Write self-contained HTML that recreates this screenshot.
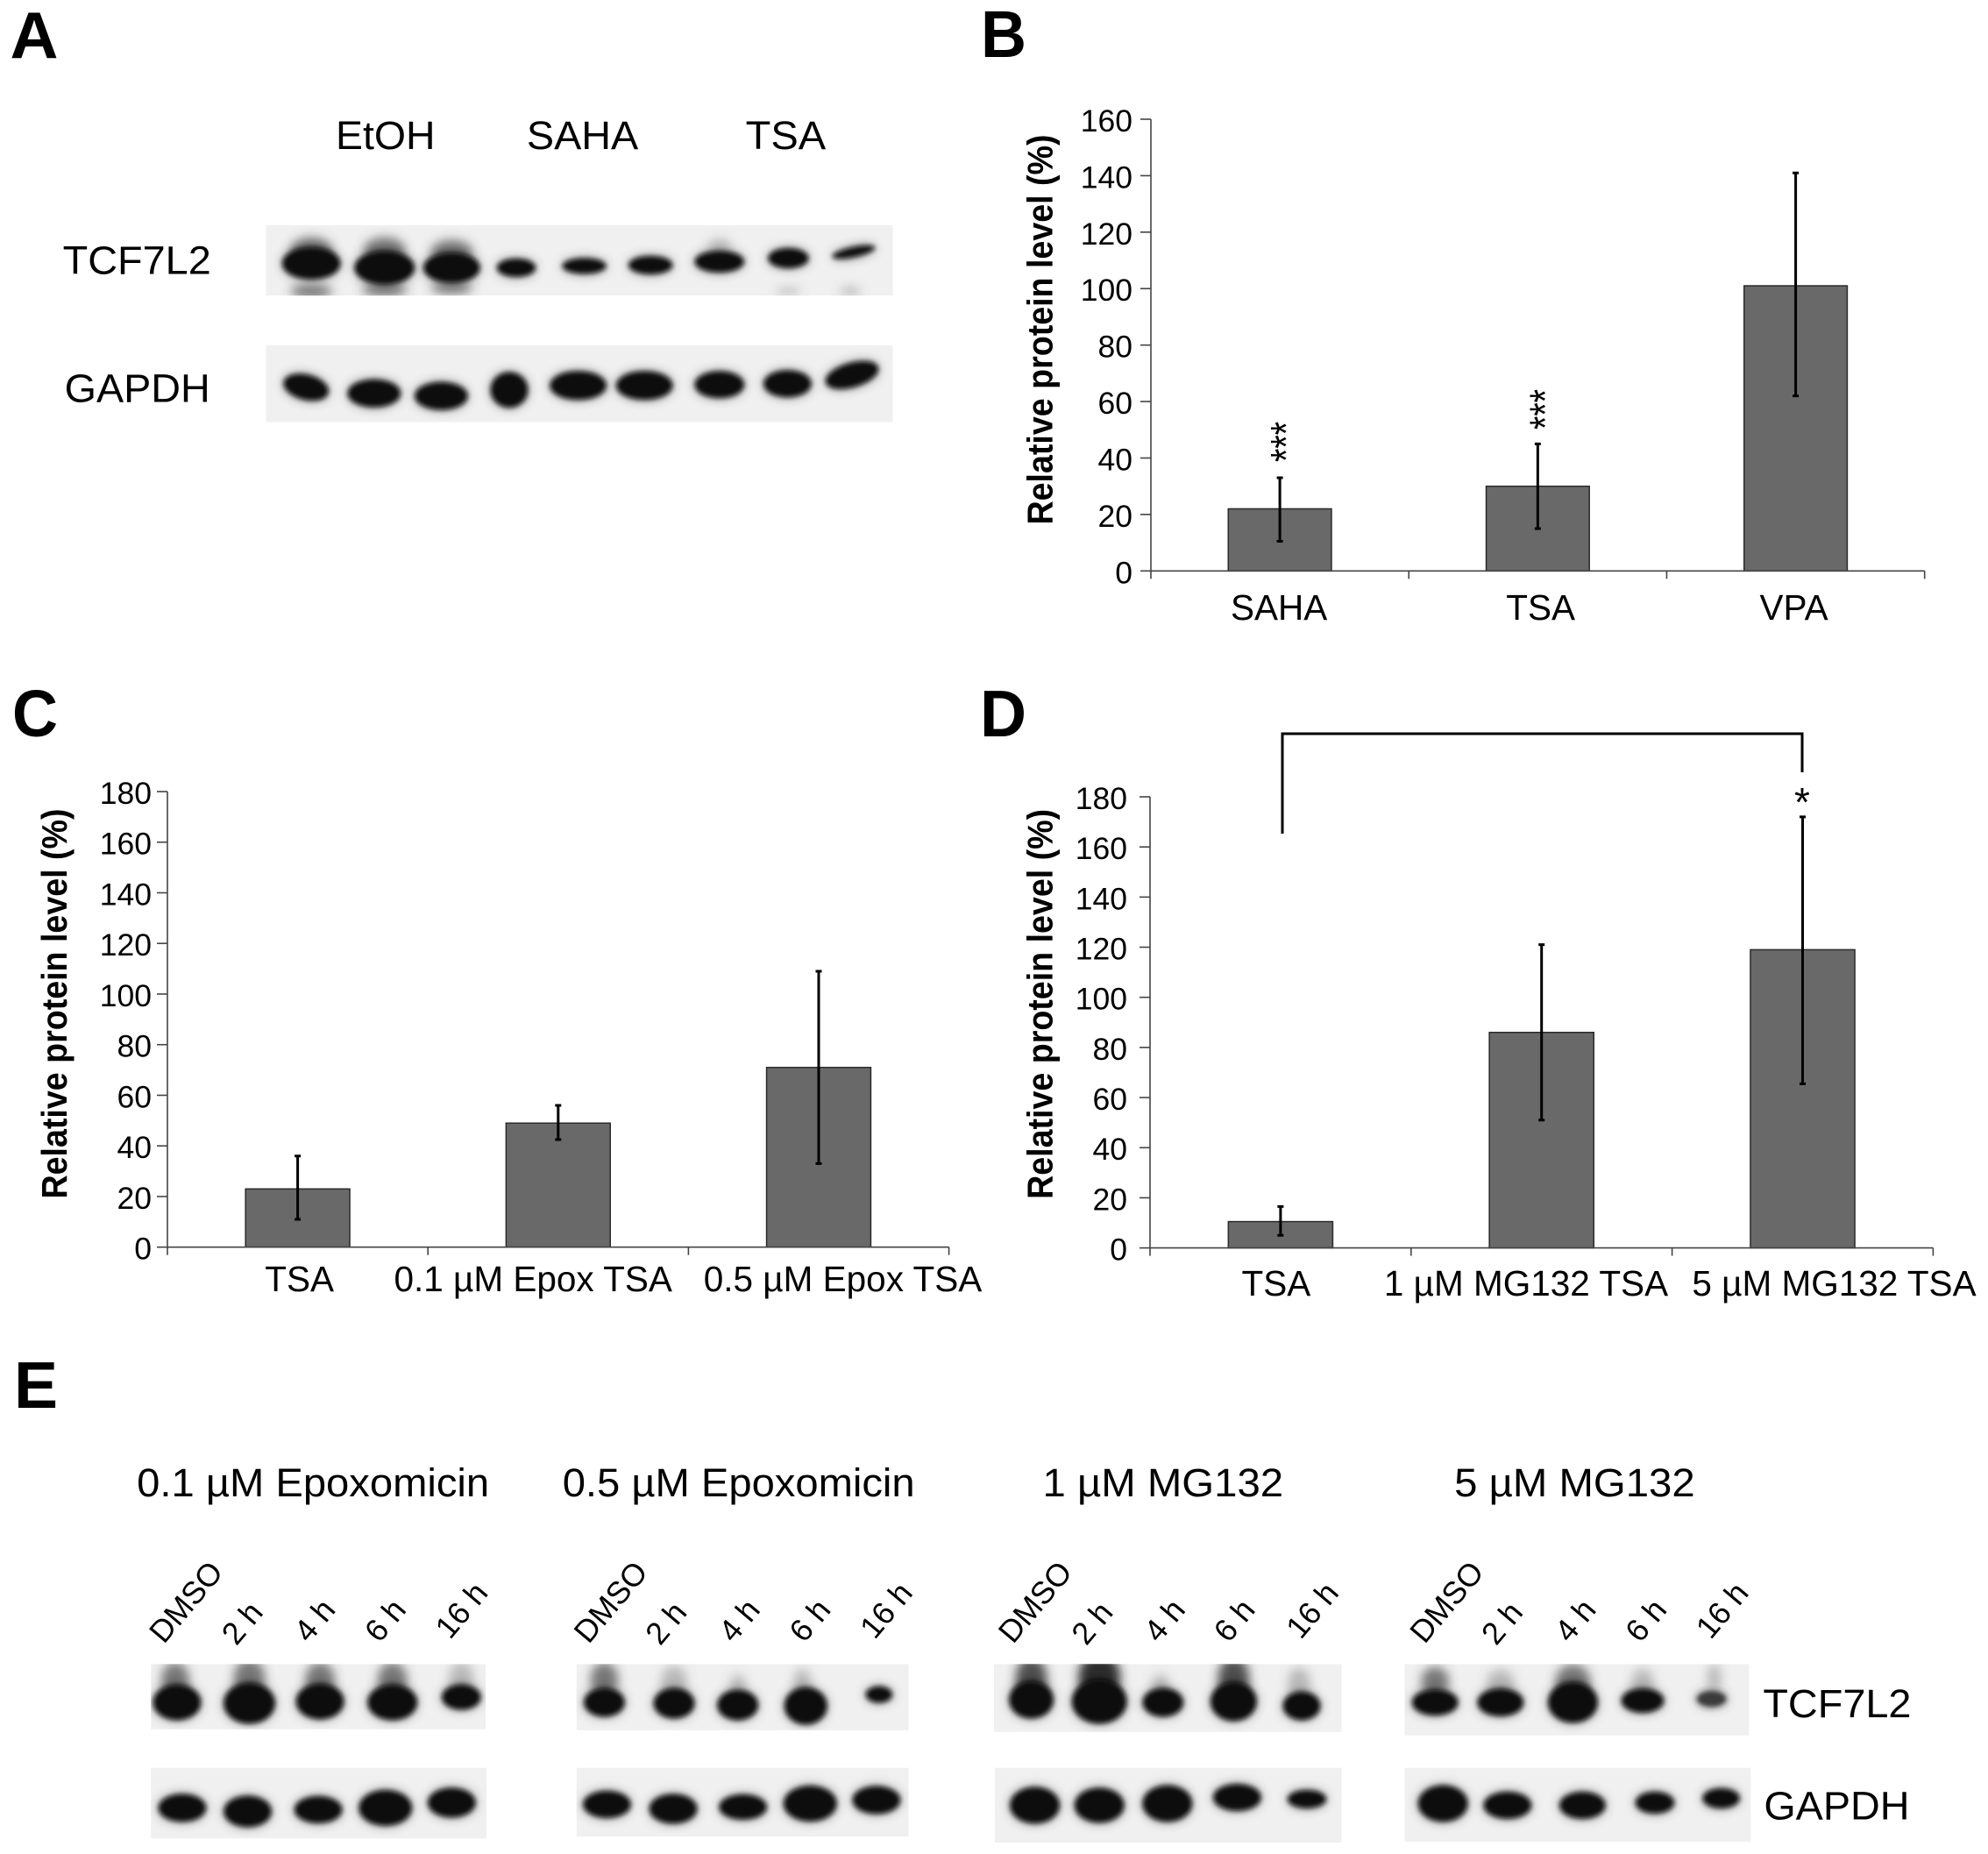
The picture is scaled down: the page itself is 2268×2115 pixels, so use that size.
<!DOCTYPE html>
<html lang="en">
<head>
<meta charset="utf-8">
<title>TCF7L2 protein level figure</title>
<style>
html,body{margin:0;padding:0;background:#fff;}
svg{display:block;}
text{font-family:"Liberation Sans",Arial,sans-serif;fill:#000;}
.pl{font-size:75px;font-weight:bold;}
.bl{font-size:46px;}
.tp{font-size:36px;}
.b{fill:#0a0a0a;}
.s{fill:#444;opacity:.7;}
.f{fill:#777;opacity:.45;}
</style>
</head>
<body>
<svg id="fig" xmlns="http://www.w3.org/2000/svg" width="2268" height="2115" viewBox="0 0 2268 2115">
<defs>
<filter id="blr" filterUnits="userSpaceOnUse" x="0" y="0" width="2268" height="2115">
<feGaussianBlur in="SourceGraphic" stdDeviation="6.5" result="h"/>
<feComponentTransfer in="h" result="h2"><feFuncA type="linear" slope=".55"/></feComponentTransfer>
<feGaussianBlur in="SourceGraphic" stdDeviation="3" result="c"/>
<feMerge><feMergeNode in="h2"/><feMergeNode in="c"/></feMerge>
</filter>
<filter id="blr2" filterUnits="userSpaceOnUse" x="0" y="0" width="2268" height="2115"><feGaussianBlur stdDeviation="6"/></filter>
</defs>
<rect x="0" y="0" width="2268" height="2115" fill="#fff"/>

<text class="pl" x="11.5" y="66" textLength="55" lengthAdjust="spacingAndGlyphs">A</text>
<text class="pl" x="1119" y="65" textLength="52" lengthAdjust="spacingAndGlyphs">B</text>
<text class="pl" x="14" y="840" textLength="52" lengthAdjust="spacingAndGlyphs">C</text>
<text class="pl" x="1118" y="840" textLength="53" lengthAdjust="spacingAndGlyphs">D</text>
<text class="pl" x="16" y="1606">E</text>

<!-- Panel A -->
<g transform="translate(0 2) scale(.9949)">
<text class="bl" x="385" y="169" textLength="114" lengthAdjust="spacingAndGlyphs">EtOH</text>
<text class="bl" x="604" y="169" textLength="128" lengthAdjust="spacingAndGlyphs">SAHA</text>
<text class="bl" x="855" y="169" textLength="92" lengthAdjust="spacingAndGlyphs">TSA</text>
<text class="bl" x="72" y="312" textLength="170" lengthAdjust="spacingAndGlyphs">TCF7L2</text>
<text class="bl" x="74" y="459" textLength="167" lengthAdjust="spacingAndGlyphs">GAPDH</text>

<svg x="305" y="256" width="719" height="81" viewBox="305 256 719 81">
<rect x="305" y="256" width="719" height="81" fill="#f0f0f0"/>
<g filter="url(#blr2)">
<ellipse class="s" cx="357" cy="285" rx="24" ry="15"/><ellipse class="s" cx="441" cy="285" rx="24" ry="15"/><ellipse class="s" cx="518" cy="287" rx="24" ry="14"/>
<ellipse class="s" cx="357" cy="332" rx="24" ry="8"/><ellipse class="s" cx="441" cy="330" rx="26" ry="8"/><ellipse class="s" cx="518" cy="328" rx="24" ry="7"/>
<ellipse class="f" cx="825" cy="280" rx="14" ry="8"/><ellipse class="f" cx="904" cy="332" rx="14" ry="4"/><ellipse class="f" cx="975" cy="332" rx="12" ry="5"/>
</g>
<g filter="url(#blr)">
<ellipse class="b" cx="357" cy="300" rx="33" ry="18"/><ellipse class="b" cx="441" cy="305" rx="34" ry="19"/><ellipse class="b" cx="518" cy="305" rx="32" ry="17"/>
<ellipse class="b" cx="592" cy="305" rx="22" ry="10"/><ellipse class="b" cx="670" cy="303" rx="25" ry="8.5"/><ellipse class="b" cx="746" cy="302" rx="25" ry="10"/>
<ellipse class="b" cx="825" cy="298" rx="28" ry="12"/><ellipse class="b" cx="904" cy="294" rx="23" ry="11"/><ellipse class="b" cx="979" cy="287" rx="25" ry="5.5" transform="rotate(-12 979 287)"/>
</g>
</svg>
<svg x="305" y="394" width="719" height="88" viewBox="305 394 719 88">
<rect x="305" y="394" width="719" height="88" fill="#f0f0f0"/>
<g filter="url(#blr)">
<ellipse class="b" cx="351" cy="442" rx="26" ry="14" transform="rotate(14 351 442)"/><ellipse class="b" cx="429" cy="449" rx="30" ry="15.5"/><ellipse class="b" cx="506" cy="452" rx="30" ry="15.5"/>
<ellipse class="b" cx="584" cy="445" rx="21" ry="20"/><ellipse class="b" cx="663" cy="440" rx="32" ry="16"/><ellipse class="b" cx="739" cy="440" rx="32" ry="16"/>
<ellipse class="b" cx="825" cy="439" rx="28" ry="15"/><ellipse class="b" cx="903" cy="438" rx="27" ry="15"/><ellipse class="b" cx="977" cy="428" rx="31" ry="13.5" transform="rotate(-16 977 428)"/>
</g>
</svg>
</g>

<!-- Panel E left -->
<g transform="matrix(.9949 0 0 .9949 0 7.96)">
<text class="bl" x="157" y="1708" textLength="404" lengthAdjust="spacingAndGlyphs">0.1 µM Epoxomicin</text>
<text class="bl" x="645" y="1708" textLength="404" lengthAdjust="spacingAndGlyphs">0.5 µM Epoxomicin</text>

<g>
<text class="tp" transform="translate(188 1878) rotate(-50)">DMSO</text>
<text class="tp" transform="translate(271 1880) rotate(-50)">2 h</text>
<text class="tp" transform="translate(354 1877) rotate(-50)">4 h</text>
<text class="tp" transform="translate(435 1877) rotate(-50)">6 h</text>
<text class="tp" transform="translate(516 1873) rotate(-50)">16 h</text>
</g>
<g>
<text class="tp" transform="translate(675 1878) rotate(-50)">DMSO</text>
<text class="tp" transform="translate(757 1880) rotate(-50)">2 h</text>
<text class="tp" transform="translate(841 1877) rotate(-50)">4 h</text>
<text class="tp" transform="translate(922 1877) rotate(-50)">6 h</text>
<text class="tp" transform="translate(1003 1873) rotate(-50)">16 h</text>
</g>

<svg x="173" y="1900" width="384" height="75" viewBox="173 1900 384 75">
<rect x="173" y="1900" width="384" height="75" fill="#f0f0f0"/>
<g filter="url(#blr2)">
<ellipse class="s" cx="201" cy="1918" rx="16" ry="20"/><ellipse class="s" cx="286" cy="1916" rx="18" ry="22"/><ellipse class="s" cx="367" cy="1918" rx="17" ry="20"/><ellipse class="s" cx="450" cy="1918" rx="17" ry="20"/><ellipse class="f" cx="529" cy="1916" rx="14" ry="18"/>
</g>
<g filter="url(#blr)">
<ellipse class="b" cx="203" cy="1944" rx="27" ry="20"/><ellipse class="b" cx="286" cy="1945" rx="29" ry="23"/><ellipse class="b" cx="367" cy="1943" rx="27" ry="20"/><ellipse class="b" cx="450" cy="1944" rx="28" ry="20"/><ellipse class="b" cx="529" cy="1938" rx="22" ry="14"/>
</g>
</svg>
<svg x="173" y="2019" width="385" height="81" viewBox="173 2019 385 81">
<rect x="173" y="2019" width="385" height="81" fill="#f0f0f0"/>
<g filter="url(#blr)">
<ellipse class="b" cx="209" cy="2065" rx="27" ry="15.5"/><ellipse class="b" cx="284" cy="2069" rx="27" ry="17.5"/><ellipse class="b" cx="365" cy="2067" rx="27" ry="15"/><ellipse class="b" cx="442" cy="2065" rx="30" ry="20"/><ellipse class="b" cx="518" cy="2059" rx="27" ry="16.5"/>
</g>
</svg>

<svg x="661" y="1900" width="381" height="76" viewBox="661 1900 381 76">
<rect x="661" y="1900" width="381" height="76" fill="#f0f0f0"/>
<g filter="url(#blr2)">
<ellipse class="s" cx="693" cy="1918" rx="16" ry="20"/><ellipse class="f" cx="773" cy="1920" rx="15" ry="18"/><ellipse class="f" cx="846" cy="1924" rx="9" ry="12"/><ellipse class="f" cx="920" cy="1922" rx="10" ry="17"/>
</g>
<g filter="url(#blr)">
<ellipse class="b" cx="693" cy="1944" rx="23" ry="16"/><ellipse class="b" cx="773" cy="1945" rx="23" ry="17"/><ellipse class="b" cx="846" cy="1947" rx="23" ry="17"/><ellipse class="b" cx="924" cy="1948" rx="24" ry="21"/><ellipse class="b" cx="1008" cy="1935" rx="15" ry="9"/>
</g>
</svg>
<svg x="661" y="2019" width="381" height="79" viewBox="661 2019 381 79">
<rect x="661" y="2019" width="381" height="79" fill="#f0f0f0"/>
<g filter="url(#blr)">
<ellipse class="b" cx="696" cy="2061" rx="27" ry="15"/><ellipse class="b" cx="772" cy="2066" rx="27" ry="16.5"/><ellipse class="b" cx="852" cy="2064" rx="27" ry="14"/><ellipse class="b" cx="929" cy="2060" rx="30" ry="20"/><ellipse class="b" cx="1005" cy="2056" rx="27" ry="15.5"/>
</g>
</svg>
</g>

<!-- Panel E right -->
<g transform="matrix(.9949 0 0 .9949 5.61 7.96)">
<text class="bl" x="1190" y="1708" textLength="276" lengthAdjust="spacingAndGlyphs">1 µM MG132</text>
<text class="bl" x="1662" y="1708" textLength="276" lengthAdjust="spacingAndGlyphs">5 µM MG132</text>
<text class="bl" x="2016" y="1961" textLength="170" lengthAdjust="spacingAndGlyphs">TCF7L2</text>
<text class="bl" x="2017" y="2078" textLength="167" lengthAdjust="spacingAndGlyphs">GAPDH</text>

<g>
<text class="tp" transform="translate(1156 1878) rotate(-50)">DMSO</text>
<text class="tp" transform="translate(1240 1880) rotate(-50)">2 h</text>
<text class="tp" transform="translate(1323 1877) rotate(-50)">4 h</text>
<text class="tp" transform="translate(1403 1877) rotate(-50)">6 h</text>
<text class="tp" transform="translate(1486 1873) rotate(-50)">16 h</text>
</g>
<g>
<text class="tp" transform="translate(1628 1878) rotate(-50)">DMSO</text>
<text class="tp" transform="translate(1710 1880) rotate(-50)">2 h</text>
<text class="tp" transform="translate(1794 1877) rotate(-50)">4 h</text>
<text class="tp" transform="translate(1875 1877) rotate(-50)">6 h</text>
<text class="tp" transform="translate(1956 1873) rotate(-50)">16 h</text>
</g>

<svg x="1134" y="1900" width="399" height="78" viewBox="1134 1900 399 78">
<rect x="1134" y="1900" width="399" height="78" fill="#f0f0f0"/>
<g filter="url(#blr2)">
<ellipse cx="1177" cy="1916" rx="18" ry="24" fill="#333" opacity=".85"/><ellipse cx="1255" cy="1914" rx="24" ry="26" fill="#222" opacity=".95"/><ellipse class="f" cx="1325" cy="1924" rx="10" ry="12"/><ellipse cx="1409" cy="1916" rx="18" ry="24" fill="#333" opacity=".85"/><ellipse class="f" cx="1484" cy="1922" rx="13" ry="18"/>
</g>
<g filter="url(#blr)">
<ellipse class="b" cx="1177" cy="1941" rx="25" ry="21"/><ellipse class="b" cx="1255" cy="1943" rx="31" ry="25"/><ellipse class="b" cx="1328" cy="1944" rx="23" ry="16"/><ellipse class="b" cx="1409" cy="1943" rx="26" ry="22"/><ellipse class="b" cx="1487" cy="1948" rx="21" ry="16"/>
</g>
</svg>
<svg x="1135" y="2019" width="398" height="86" viewBox="1135 2019 398 86">
<rect x="1135" y="2019" width="398" height="86" fill="#f0f0f0"/>
<g filter="url(#blr)">
<ellipse class="b" cx="1181" cy="2062" rx="28" ry="20.5"/><ellipse class="b" cx="1255" cy="2062" rx="28" ry="19.5"/><ellipse class="b" cx="1333" cy="2060" rx="28" ry="20.5"/><ellipse class="b" cx="1413" cy="2053" rx="27" ry="15"/><ellipse class="b" cx="1493" cy="2055" rx="22" ry="10"/>
</g>
</svg>

<svg x="1605" y="1900" width="395" height="82" viewBox="1605 1900 395 82">
<rect x="1605" y="1900" width="395" height="82" fill="#f0f0f0"/>
<g filter="url(#blr2)">
<ellipse class="s" cx="1640" cy="1920" rx="16" ry="17"/><ellipse class="f" cx="1715" cy="1922" rx="16" ry="16"/><ellipse class="s" cx="1798" cy="1920" rx="20" ry="20"/><ellipse class="f" cx="1878" cy="1922" rx="13" ry="17"/><ellipse class="f" cx="1960" cy="1916" rx="8" ry="16"/>
</g>
<g filter="url(#blr)">
<ellipse class="b" cx="1640" cy="1944" rx="26" ry="14.5"/><ellipse class="b" cx="1715" cy="1944" rx="26" ry="15.5"/><ellipse class="b" cx="1798" cy="1944" rx="28" ry="23"/><ellipse class="b" cx="1878" cy="1942" rx="24" ry="13.5"/><ellipse cx="1957" cy="1940" rx="17" ry="9" fill="#3a3a3a"/>
</g>
</svg>
<svg x="1605" y="2019" width="397" height="85" viewBox="1605 2019 397 85">
<rect x="1605" y="2019" width="397" height="85" fill="#f0f0f0"/>
<g filter="url(#blr)">
<ellipse class="b" cx="1649" cy="2060" rx="28" ry="20.5"/><ellipse class="b" cx="1723" cy="2062" rx="27" ry="15"/><ellipse class="b" cx="1809" cy="2062" rx="26" ry="15"/><ellipse class="b" cx="1892" cy="2059" rx="22" ry="12"/><ellipse class="b" cx="1968" cy="2054" rx="21" ry="11"/>
</g>
</svg>
</g>

<!-- Annotations -->
<path d="M1463 951 V837 H2056 V881" fill="none" stroke="#000" stroke-width="3"/>
<text x="2056" y="931" text-anchor="middle" font-size="46">*</text>
<text transform="translate(1484.5 504) rotate(-90)" text-anchor="middle" font-size="50" textLength="46" lengthAdjust="spacingAndGlyphs">***</text>
<text transform="translate(1780 467) rotate(-90)" text-anchor="middle" font-size="50" textLength="46" lengthAdjust="spacingAndGlyphs">***</text>

<g id="chart-b"></g>
<g id="chart-c"></g>
<g id="chart-d"></g>
</svg>

<script>
// Chart B data
const bCategories = ['SAHA', 'TSA', 'VPA'];
const bValues = [22, 30, 101];
const bErrHigh = [33, 45, 141];
const bErrLow = [10.5, 15, 62];
const bTicks = [0, 20, 40, 60, 80, 100, 120, 140, 160];

// Chart C data
const cCategories = ['TSA', '0.1 µM Epox TSA', '0.5 µM Epox TSA'];
const cValues = [23, 49, 71];
const cErrHigh = [36, 56, 109];
const cErrLow = [11, 42.5, 33];
const cTicks = [0, 20, 40, 60, 80, 100, 120, 140, 160, 180];

// Chart D data
const dCategories = ['TSA', '1 µM MG132 TSA', '5 µM MG132 TSA'];
const dValues = [10.5, 86, 119];
const dErrHigh = [16.5, 121, 172];
const dErrLow = [5, 51, 65.5];
const dTicks = [0, 20, 40, 60, 80, 100, 120, 140, 160, 180];

const SVGNS = 'http://www.w3.org/2000/svg';

function make(parent, tag, attrs, content) {
  const el = document.createElementNS(SVGNS, tag);
  for (const k in attrs) el.setAttribute(k, attrs[k]);
  if (content !== undefined) el.textContent = content;
  parent.appendChild(el);
  return el;
}

function drawChart(id, frame, categories, values, errHigh, errLow, ticks) {
  const root = document.getElementById(id);
  const maxTick = Math.max(...ticks);
  const yScale = v => frame.y0 - (v / maxTick) * (frame.y0 - frame.yTop);
  const band = (frame.xRight - frame.x0) / categories.length;
  const xScale = i => frame.x0 + band * (i + 0.5);
  const barW = band * 0.4;

  categories.forEach((cat, i) => {
    const top = yScale(values[i]);
    const bar = make(root, 'rect', {
      x: xScale(i) - barW / 2, y: top, width: barW, height: frame.y0 - top,
      fill: '#696969', stroke: '#2a2a2a', 'stroke-width': 1.5
    });
    
    
  });

  const yAxis = make(root, 'line', {
    x1: frame.x0, x2: frame.x0, y1: frame.yTop, y2: frame.y0, stroke: '#444', 'stroke-width': 1.6
  });
  
  

  const xAxis = make(root, 'line', {
    x1: frame.x0, x2: frame.xRight, y1: frame.y0, y2: frame.y0, stroke: '#444', 'stroke-width': 1.6
  });
  
  

  ticks.forEach(t => {
    const y = yScale(t);
    const tick = make(root, 'line', {
      x1: frame.x0 - 12, x2: frame.x0, y1: y, y2: y, stroke: '#444', 'stroke-width': 1.6
    });
    
    
    const label = make(root, 'text', {
      x: frame.x0 - frame.tickGap, y: y + 14, 'text-anchor': 'end', 'font-size': 35.5
    }, String(t));
    
    
  });

  for (let i = 0; i <= categories.length; i++) {
    const x = frame.x0 + band * i;
    const tick = make(root, 'line', {
      x1: x, x2: x, y1: frame.y0, y2: frame.y0 + 9, stroke: '#444', 'stroke-width': 1.6
    });
    
    
  }

  categories.forEach((cat, i) => {
    const x = xScale(i);
    const hi = yScale(errHigh[i]);
    const lo = yScale(errLow[i]);
    const err = make(root, 'path', {
      d: 'M' + x + ' ' + hi + 'V' + lo + 'M' + (x - 3.5) + ' ' + hi + 'h7M' + (x - 3.5) + ' ' + lo + 'h7',
      fill: 'none', stroke: '#000', 'stroke-width': 3
    });
    
    
  });

  categories.forEach((cat, i) => {
    const label = make(root, 'text', {
      x: xScale(i) + frame.labelShift[i], y: frame.labelY, 'text-anchor': 'middle', 'font-size': 40.5
    }, cat);
    
    
  });

  const title = make(root, 'text', {
    transform: 'translate(' + frame.titleX + ' ' + frame.titleY + ') rotate(-90)',
    'text-anchor': 'middle', 'font-size': 41, 'font-weight': 'bold',
    textLength: 445, lengthAdjust: 'spacingAndGlyphs'
  }, 'Relative protein level (%)');
  
  
}

drawChart('chart-b',
  { x0: 1313, xRight: 2195.7, y0: 651.3, yTop: 136, tickGap: 21, labelY: 707, labelShift: [-1, 3.3, -2], titleX: 1200.6, titleY: 376 },
  bCategories, bValues, bErrHigh, bErrLow, bTicks);

drawChart('chart-c',
  { x0: 191, xRight: 1082.6, y0: 1422.7, yTop: 903, tickGap: 18, labelY: 1473, labelShift: [2, -28.6, 27.5], titleX: 76, titleY: 1145 },
  cCategories, cValues, cErrHigh, cErrLow, cTicks);

drawChart('chart-d',
  { x0: 1312, xRight: 2205.4, y0: 1423.6, yTop: 909, tickGap: 26, labelY: 1478, labelShift: [-5, -17.7, 36], titleX: 1200.6, titleY: 1145.4 },
  dCategories, dValues, dErrHigh, dErrLow, dTicks);
</script>
</body>
</html>
